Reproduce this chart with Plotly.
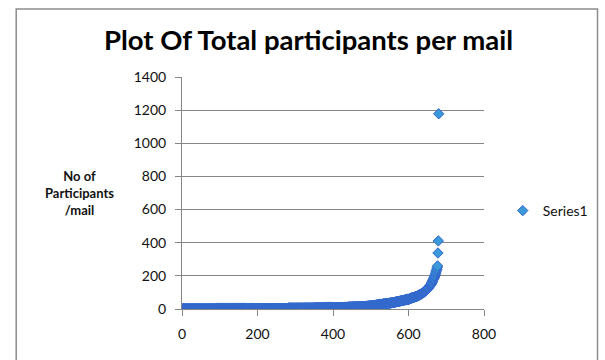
import plotly.graph_objects as go

# ---- data: participants per mail, sorted ascending ----
# low part as a frequency table (participants value -> number of mails)
low_values = [1, 2, 3, 4, 5, 6, 7, 8, 9, 10, 11, 12, 13, 14, 15, 16, 17, 18, 19, 20]
low_counts = [90, 80, 60, 50, 40, 30, 25, 20, 17, 15, 13, 11, 10, 9, 8, 7, 6, 5, 4, 4]
# upper tail listed explicitly
tail_values = [
    21, 21, 21, 22, 22, 22, 23, 23, 23, 24, 24, 24, 25, 25, 25, 26, 26, 26, 27, 27, 27,
    28, 28, 28, 29, 29, 29, 30, 30, 30, 31, 31, 31, 32, 32, 32, 33, 33, 33, 34, 34, 34,
    35, 35, 35, 35,
    36, 36, 36, 37, 37, 38, 38, 38, 39, 39, 40, 40, 41, 41, 42, 42, 43, 43, 44, 44,
    45, 45, 46, 46, 47, 47, 48, 48, 49, 49, 50, 50, 51, 51, 52, 52, 53, 53, 54, 54,
    55, 55, 56, 56, 57, 57, 58, 58, 58, 58,
    59, 60, 61, 62, 63, 64, 65, 66, 67, 67, 68, 69, 70, 70, 71, 72, 73, 74, 74, 75,
    76, 77, 78, 79, 80, 81, 82, 84, 85, 86, 87, 88, 90, 91, 92, 94, 95, 97, 98, 100,
    102, 104, 106, 108, 110, 112, 114, 116, 118, 120,
    123, 126, 129, 132, 135, 138, 141, 144, 147, 150,
    155, 160, 165, 170, 175, 180, 185, 190, 195, 200,
    208, 216, 224, 232, 240, 250, 260,
    338, 411, 1178,
]

x_ticks = [0, 200, 400, 600, 800]
y_ticks = [0, 200, 400, 600, 800, 1000, 1200, 1400]

y_vals = []
for v, c in zip(low_values, low_counts):
    y_vals.extend([v] * c)
y_vals.extend(tail_values)
x_vals = list(range(1, len(y_vals) + 1))

FONT = "Lato, 'Open Sans', sans-serif"

fig = go.Figure()
fig.add_trace(go.Scatter(
    x=x_vals, y=y_vals, mode="markers", name="Series1",
    marker=dict(symbol="diamond", size=8, color="#3A9AD9",
                line=dict(color="#3366CC", width=1)),
))

# plot area in px: x 182..488, y 77..309 (605x360 canvas)
L, R, T, B = 182, 488, 77, 309
W, H = R - L, B - T

def px(xp):
    return (xp - L) / W

def py(yp):
    return (B - yp) / H

fig.update_layout(
    width=605, height=360,
    margin=dict(l=L, r=605 - R, t=T, b=360 - B),
    paper_bgcolor="white", plot_bgcolor="white",
    font=dict(family=FONT, color="#111111", size=14),
    title=dict(text="<b>Plot Of Total participants per mail</b>",
               xref="container", yref="container",
               x=308.5 / 605, xanchor="center", y=1 - 40 / 360, yanchor="middle",
               font=dict(size=27.5, color="black", family=FONT)),
    showlegend=True,
    legend=dict(x=px(507), xanchor="left", y=py(211), yanchor="middle",
                font=dict(size=14, color="#111111", family=FONT),
                bgcolor="rgba(0,0,0,0)", borderwidth=0),
    xaxis=dict(range=[0, 800], tickvals=x_ticks, ticks="outside", ticklen=6,
               tickcolor="#868686", showline=True, linecolor="#868686", linewidth=1,
               showgrid=False, zeroline=False, tickfont=dict(size=14),
               ticklabelstandoff=6, fixedrange=True),
    yaxis=dict(range=[0, 1400], tickvals=y_ticks, ticks="outside", ticklen=6,
               tickcolor="#868686", showline=True, linecolor="#868686", linewidth=1,
               showgrid=True, gridcolor="#868686", gridwidth=1, zeroline=False,
               tickfont=dict(size=14), ticklabelstandoff=6, fixedrange=True),
    annotations=[dict(text="<b>No of<br>Participants<br>/mail</b>",
                      x=px(78), y=py(193), xref="paper", yref="paper",
                      xanchor="center", yanchor="middle", showarrow=False,
                      align="center", font=dict(size=13, color="#111111", family=FONT))],
    shapes=[dict(type="rect", xref="paper", yref="paper",
                 x0=px(14), x1=px(603), y0=py(368), y1=py(9),
                 line=dict(color="#8c8c8c", width=1.5), fillcolor="rgba(0,0,0,0)",
                 layer="below")],
)

fig.write_html("out.html")
